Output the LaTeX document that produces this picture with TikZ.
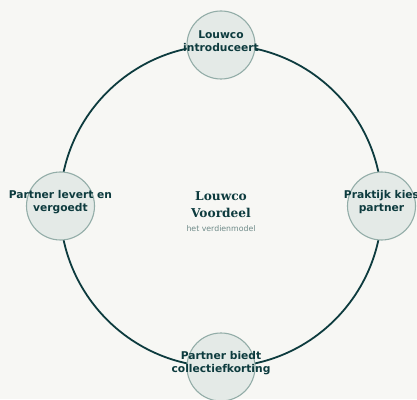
\documentclass[tikz,border=0pt]{standalone}
\usepackage{fontspec}
\setmainfont{DejaVu Sans}
\newfontfamily\serifbold{DejaVu Serif}
\usetikzlibrary{calc}
\definecolor{bgpaper}{HTML}{F7F7F4}
\definecolor{darkteal}{HTML}{0D3B3E}
\definecolor{stepfill}{HTML}{E4EAE7}
\definecolor{stepedge}{HTML}{93ADA8}
\definecolor{subgray}{HTML}{6E8A88}

\begin{document}
\begin{tikzpicture}[x=1pt,y=1pt,
  stepcircle/.style={circle,draw=stepedge,fill=stepfill,line width=1.1pt,minimum size=68pt,inner sep=0pt},
  steplabel/.style={align=center,text=darkteal,font=\fontsize{10.7}{13}\selectfont\bfseries,inner sep=0pt}]
% background and page size
\fill[bgpaper] (0,0) rectangle (417,399);
\useasboundingbox (0,0) rectangle (417,399);

% centre of the cycle
\coordinate (mid) at (221,193);

% the big ring
\draw[darkteal,line width=1.8pt] (mid) circle (161);

% the four steps on the ring
\node[stepcircle] (intro) at ($(mid)+(90:161)$) {};
\node[stepcircle] (choice) at ($(mid)+(0:160.5)$) {};
\node[stepcircle] (discount) at ($(mid)+(270:161)$) {};
\node[stepcircle] (deliver) at ($(mid)+(180:160.5)$) {};

\node[steplabel] (intro text) at ([yshift=4pt]intro.center) {Louwco\\introduceert};
\node[steplabel] (choice text) at ([yshift=4pt]choice.center) {Praktijk kies\\partner};
\node[steplabel] (discount text) at ([yshift=4pt]discount.center) {Partner biedt\\collectiefkorting};
\node[steplabel] (deliver text) at ([yshift=4pt]deliver.center) {Partner levert en\\vergoedt};

% title in the middle
\node[align=center,text=darkteal,font=\serifbold\fontsize{12.2}{17}\selectfont\bfseries,inner sep=0pt] (title) at ([yshift=1.5pt]mid) {Louwco\\Voordeel};
\node[text=subgray,font=\fontsize{7.8}{9}\selectfont,inner sep=0pt] (subtitle) at ([yshift=-23pt]mid) {het verdienmodel};
\end{tikzpicture}
\end{document}
